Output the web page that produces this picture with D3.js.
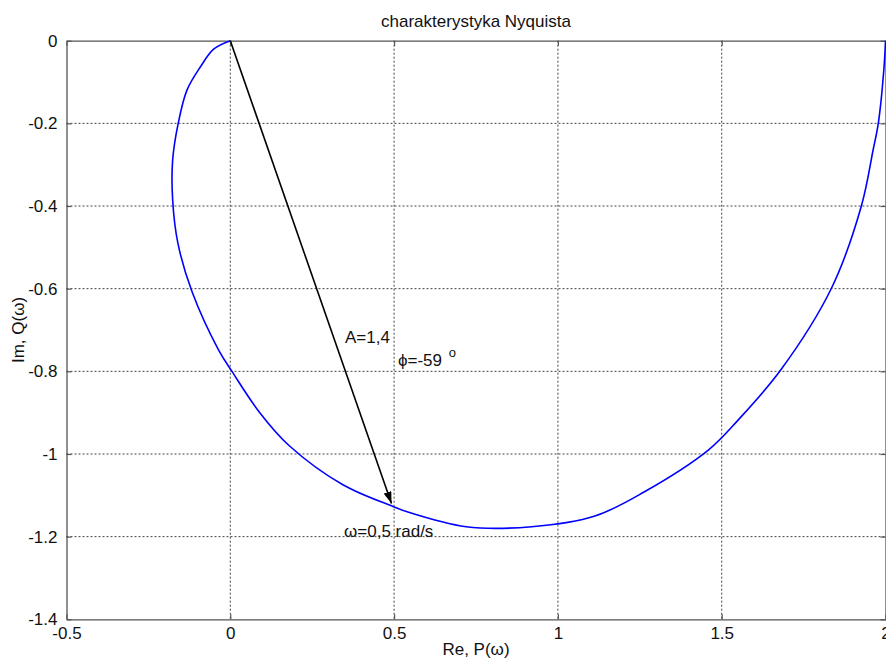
<!DOCTYPE html>
<html>
<head>
<meta charset="utf-8">
<script src="https://cdn.jsdelivr.net/npm/d3@7"></script>
<style>
  html, body { margin: 0; padding: 0; background: #fff; }
  svg { display: block; font-family: "Liberation Sans", Arial, sans-serif; }
</style>
</head>
<body>
<svg id="chart" width="886" height="662"></svg>
<script>
// ---- data ----
const re = [2.0, 1.995, 1.978, 1.962, 1.927, 1.835, 1.68, 1.55, 1.46, 1.263, 1.113, 0.92, 0.72, 0.54, 0.497, 0.345, 0.18, 0.09, 0.005, -0.036, -0.117, -0.16, -0.176, -0.176, -0.159, -0.132, -0.091, -0.05, 0.0];
const im = [0.0, -0.07, -0.2, -0.265, -0.398, -0.599, -0.797, -0.918, -0.99, -1.092, -1.15, -1.176, -1.176, -1.14, -1.127, -1.075, -0.98, -0.9, -0.8, -0.748, -0.607, -0.49, -0.385, -0.289, -0.2, -0.119, -0.063, -0.02, 0.0];
const xTicks = [-0.5, 0, 0.5, 1, 1.5, 2];
const xTickLabels = ["-0.5", "0", "0.5", "1", "1.5", "2"];
const yTicks = [0, -0.2, -0.4, -0.6, -0.8, -1, -1.2, -1.4];
const yTickLabels = ["0", "-0.2", "-0.4", "-0.6", "-0.8", "-1", "-1.2", "-1.4"];
const arrowFrom = [0, 0];
const arrowTo = [0.492, -1.12];
const title = "charakterystyka Nyquista";
const xLabel = "Re, P(\u03C9)";
const yLabel = "Im, Q(\u03C9)";
const annA = "A=1,4";
const annPhi = "\u03D5=-59 ";
const annOmega = "\u03C9=0,5 rad/s";

// ---- layout ----
const svg = d3.select("#chart");
const L = 66.5, T = 40.7, R = 885.5, B = 619.3;
const x = d3.scaleLinear().domain([-0.5, 2]).range([L, R]);
const y = d3.scaleLinear().domain([-1.4, 0]).range([B, T]);
const axisColor = "#555";
const fs = 17;

// grid
const grid = svg.append("g");
grid.selectAll("line.gx").data(xTicks.filter(d => d > -0.5 && d < 2)).join("line")
  .attr("x1", d => x(d)).attr("x2", d => x(d)).attr("y1", T).attr("y2", B)
  .attr("stroke", "#444").attr("stroke-width", 1).attr("stroke-dasharray", "2,2");
grid.selectAll("line.gy").data(yTicks.filter(d => d < 0 && d > -1.4)).join("line")
  .attr("x1", L).attr("x2", R).attr("y1", d => y(d)).attr("y2", d => y(d))
  .attr("stroke", "#444").attr("stroke-width", 1).attr("stroke-dasharray", "2,2");

// axes (MATLAB style: inward ticks on all sides)
const fmtX = d => xTickLabels[xTicks.indexOf(d)];
const fmtY = d => yTickLabels[yTicks.indexOf(d)];
function styleAxis(g) {
  g.select(".domain").attr("stroke", axisColor).attr("stroke-width", 1.3);
  g.selectAll(".tick line").attr("stroke", axisColor).attr("stroke-width", 1.2);
  g.selectAll("text").attr("font-size", fs).attr("fill", "#111")
    .attr("font-family", "Liberation Sans, Arial, sans-serif");
}
svg.append("g").attr("transform", `translate(0,${B})`)
  .call(d3.axisBottom(x).tickValues(xTicks).tickFormat(fmtX).tickSizeInner(-5).tickSizeOuter(0).tickPadding(8))
  .call(styleAxis);
svg.append("g").attr("transform", `translate(0,${T})`)
  .call(d3.axisTop(x).tickValues(xTicks).tickFormat("").tickSizeInner(-5).tickSizeOuter(0))
  .call(styleAxis);
svg.append("g").attr("transform", `translate(${L},0)`)
  .call(d3.axisLeft(y).tickValues(yTicks).tickFormat(fmtY).tickSizeInner(-5).tickSizeOuter(0).tickPadding(9))
  .call(styleAxis);
svg.append("g").attr("transform", `translate(${R},0)`)
  .call(d3.axisRight(y).tickValues(yTicks).tickFormat("").tickSizeInner(-5).tickSizeOuter(0))
  .call(styleAxis);

// curve
const pts = re.map((v, i) => [v, im[i]]);
const line = d3.line().x(d => x(d[0])).y(d => y(d[1])).curve(d3.curveCatmullRom.alpha(0.5));
svg.append("path").datum(pts).attr("d", line)
  .attr("fill", "none").attr("stroke", "#0000ff").attr("stroke-width", 1.6)
  .attr("stroke-linejoin", "round");

// arrow
const defs = svg.append("defs");
defs.append("marker").attr("id", "ah").attr("viewBox", "0 0 12 8")
  .attr("refX", 12).attr("refY", 4).attr("markerWidth", 12).attr("markerHeight", 8)
  .attr("markerUnits", "userSpaceOnUse").attr("orient", "auto")
  .append("path").attr("d", "M0,0 L12,4 L0,8 Z").attr("fill", "#000");
svg.append("line")
  .attr("x1", x(arrowFrom[0])).attr("y1", y(arrowFrom[1]))
  .attr("x2", x(arrowTo[0])).attr("y2", y(arrowTo[1]))
  .attr("stroke", "#000").attr("stroke-width", 1.6).attr("marker-end", "url(#ah)");

// annotations
svg.append("text").attr("x", 345).attr("y", 343).attr("font-size", fs).attr("fill", "#111").text(annA);
const phi = svg.append("text").attr("x", 398).attr("y", 366).attr("font-size", fs).attr("fill", "#111");
phi.append("tspan").text(annPhi);
phi.append("tspan").attr("dx", 2).attr("dy", -9).attr("font-size", 13).text("o");
svg.append("text").attr("x", 344).attr("y", 537).attr("font-size", fs).attr("fill", "#111").text(annOmega);

// title and axis labels
svg.append("text").attr("x", (L + R) / 2).attr("y", 27).attr("text-anchor", "middle")
  .attr("font-size", fs).attr("fill", "#111").text(title);
svg.append("text").attr("x", (L + R) / 2).attr("y", 655).attr("text-anchor", "middle")
  .attr("font-size", fs).attr("fill", "#111").text(xLabel);
svg.append("text").attr("transform", `translate(24,${(T + B) / 2}) rotate(-90)`)
  .attr("text-anchor", "middle").attr("font-size", fs).attr("fill", "#111").text(yLabel);
</script>
</body>
</html>
